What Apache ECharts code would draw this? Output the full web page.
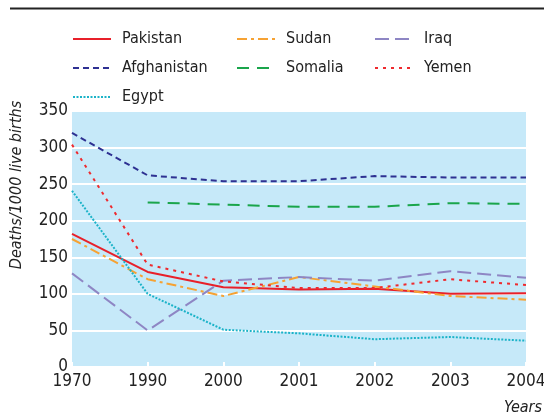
<!DOCTYPE html>
<html>
<head>
<meta charset="utf-8">
<script src="https://cdn.jsdelivr.net/npm/echarts@6/dist/echarts.min.js"></script>
<style>
  html, body { margin: 0; padding: 0; background: #fff; }
  #chart { width: 544px; height: 418px; }
</style>
</head>
<body>
<div id="chart"></div>
<script>
// years on the x axis (category, not evenly spaced in time)
const years = ['1970', '1990', '2000', '2001', '2002', '2003', '2004'];

// deaths per 1000 live births
const pakistan    = [182, 130, 109, 106, 107, 100, 101];
const sudan       = [175, 120, 97, 123, 110, 97, 92];
const iraq        = [128, 50, 118, 123, 118, 131, 122];
const afghanistan = [320, 262, 254, 254, 261, 259, 259];
const somalia     = [null, 225, 222, 219, 219, 224, 223];
const yemen       = [304, 140, 117, 108, 108, 120, 112];
const egypt       = [241, 100, 51, 46, 38, 41, 36];

const yTicks = [0, 50, 100, 150, 200, 250, 300, 350];

const FONT = '"Liberation Sans Narrow", "DejaVu Sans Condensed", "Liberation Sans", sans-serif';

function line(name, data, color, type, width) {
    return {
        name: name,
        type: 'line',
        data: data,
        symbol: 'none',
        connectNulls: false,
        lineStyle: { color: color, width: width || 2, type: type },
        itemStyle: { color: color },
        z: 3
    };
}

function legendCol(left, names) {
    return {
        orient: 'vertical',
        left: left,
        top: 26,
        itemWidth: 38,
        itemHeight: 14,
        itemGap: 13,
        data: names,
        selectedMode: false,
        itemStyle: { opacity: 0 },
        textStyle: { fontFamily: FONT, fontSize: 16, color: '#222', padding: [0, 0, 0, 6] }
    };
}

const chart = echarts.init(document.getElementById('chart'));
chart.setOption({
    animation: false,
    textStyle: { fontFamily: FONT },
    legend: [
        legendCol(67, ['Pakistan', 'Afghanistan', 'Egypt']),
        legendCol(231, ['Sudan', 'Somalia']),
        legendCol(369, ['Iraq', 'Yemen'])
    ],
    grid: {
        left: 72, right: 18, top: 111, bottom: 51,
        outerBoundsMode: 'none',
        show: true, backgroundColor: '#c6e9f9', borderWidth: 0
    },
    xAxis: {
        type: 'category',
        data: years,
        boundaryGap: false,
        axisLine: { show: false },
        axisTick: { show: true, inside: true, length: 5, lineStyle: { color: '#fff', width: 2 } },
        axisLabel: { fontFamily: FONT, fontSize: 17, color: '#222', margin: 6 },
        splitLine: { show: false }
    },
    yAxis: {
        type: 'value',
        min: yTicks[0],
        max: yTicks[yTicks.length - 1],
        interval: 50,
        axisLine: { show: false },
        axisTick: { show: false },
        axisLabel: { fontFamily: FONT, fontSize: 17, color: '#222', margin: 4 },
        splitLine: { show: true, lineStyle: { color: '#fff', width: 2 } }
    },
    graphic: [
        { type: 'line', shape: { x1: 10, y1: 8.5, x2: 544, y2: 8.5 }, style: { stroke: '#222', lineWidth: 2 } },
        {
            type: 'text', x: 17, y: 185, rotation: Math.PI / 2,
            style: { text: 'Deaths/1000 live births', fontFamily: FONT, fontSize: 16, fontStyle: 'italic',
                     fill: '#222', align: 'center', verticalAlign: 'middle' }
        },
        {
            type: 'text', right: 2, top: 400,
            style: { text: 'Years', fontFamily: FONT, fontSize: 16, fontStyle: 'italic', fill: '#222' }
        }
    ],
    series: [
        line('Pakistan', pakistan, '#e8202a', 'solid', 2),
        line('Sudan', sudan, '#f6a233', [10, 4, 3, 4], 2),
        line('Iraq', iraq, '#8e86c4', [14, 6], 2),
        line('Afghanistan', afghanistan, '#2e3192', [6, 4], 2),
        line('Somalia', somalia, '#1aa54b', [12, 8], 2),
        line('Yemen', yemen, '#ee2a2e', [3, 5], 2),
        line('Egypt', egypt, '#1bb3c8', [2, 1.5], 2)
    ]
});
</script>
</body>
</html>
